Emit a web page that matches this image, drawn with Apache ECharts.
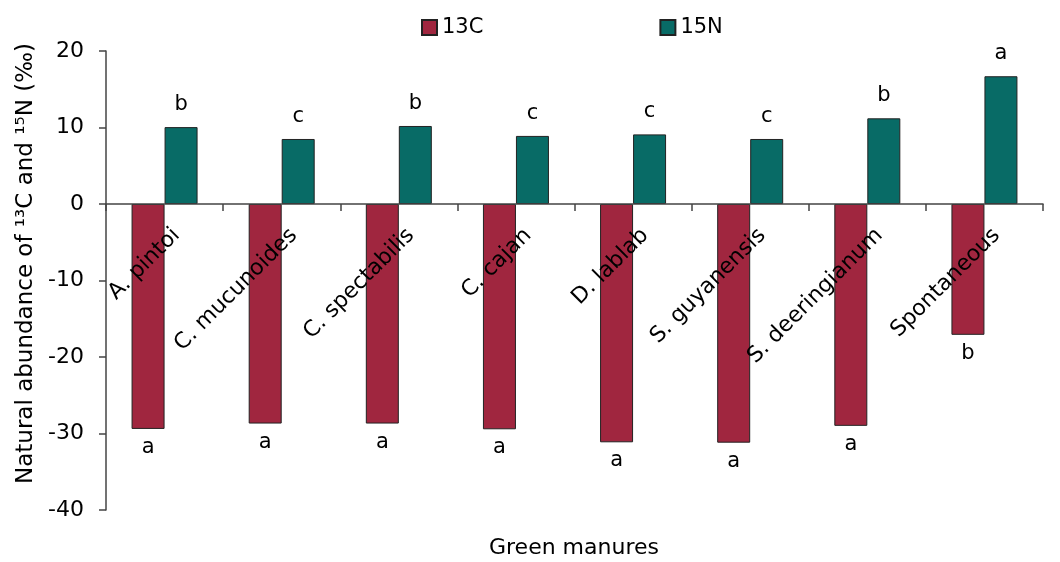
<!DOCTYPE html>
<html>
<head>
<meta charset="utf-8">
<script src="https://cdn.jsdelivr.net/npm/echarts@6/dist/echarts.min.js"></script>
<style>
html,body{margin:0;padding:0;background:#fff;}
#chart{width:1060px;height:562px;}
</style>
</head>
<body>
<div id="chart"></div>
<script>
var categories = ['A. pintoi','C. mucunoides','C. spectabilis','C. cajan','D. lablab','S. guyanensis','S. deeringianum','Spontaneous'];
var c13Values = [-29.4, -28.7, -28.7, -29.45, -31.15, -31.2, -29.0, -17.1];
var n15Values = [10.05, 8.5, 10.2, 8.9, 9.1, 8.5, 11.2, 16.7];
var c13Letters = ['a','a','a','a','a','a','a','b'];
var n15Letters = ['b','c','b','c','c','c','b','a'];
var yTicks = {min: -40, max: 20, interval: 10};

var FONT = 'DejaVu Sans';
var GRID = {left: 106, right: 17, top: 51, bottom: 52};
var chartH = 562;
var gridH = chartH - GRID.top - GRID.bottom;
// place the category axis on the zero line (fraction of range below zero)
var zeroOffset = -gridH * (0 - yTicks.min) / (yTicks.max - yTicks.min);

var chart = echarts.init(document.getElementById('chart'), null, {renderer: 'canvas'});
chart.setOption({
  animation: false,
  backgroundColor: '#fff',
  textStyle: {fontFamily: FONT, color: '#000'},
  legend: {
    left: 421, top: 17, padding: 0,
    itemWidth: 15, itemHeight: 15, itemGap: 176, itemTextGap: 8,
    icon: 'rect',
    textStyle: {fontFamily: FONT, fontSize: 21, color: '#000'},
    data: ['13C', '15N']
  },
  grid: {left: GRID.left, right: GRID.right, top: GRID.top, bottom: GRID.bottom, containLabel: false, outerBoundsMode: 'none'},
  xAxis: {
    type: 'category',
    data: categories,
    z: 5,
    offset: zeroOffset,
    axisLine: {onZero: false, lineStyle: {color: '#444', width: 1.5}},
    axisTick: {show: true, length: 7, lineStyle: {color: '#444', width: 1.5}},
    axisLabel: {interval: 0, rotate: 45, fontSize: 22, color: '#000', fontFamily: FONT, margin: 40,
      padding: [0, -17, 0, 0]}
  },
  yAxis: {
    type: 'value',
    min: yTicks.min, max: yTicks.max, interval: yTicks.interval,
    name: 'Natural abundance of \u00B9\u00B3C and \u00B9\u2075N (\u2030)',
    nameLocation: 'middle', nameGap: 62, nameRotate: 90,
    nameTextStyle: {fontFamily: FONT, fontSize: 23, color: '#000', padding: [0, 0, 0, 34]},
    axisLine: {show: true, lineStyle: {color: '#444', width: 1.5}},
    axisTick: {show: true, length: 7, lineStyle: {color: '#444', width: 1.5}},
    splitLine: {show: false},
    axisLabel: {fontSize: 22, color: '#000', fontFamily: FONT, margin: 22}
  },
  series: [
    {
      name: '13C', type: 'bar', data: c13Values,
      barWidth: 33, barGap: '0%',
      itemStyle: {color: '#A0263F', borderColor: '#222', borderWidth: 1},
      label: {show: true, position: 'bottom', distance: 8, fontSize: 21, color: '#000', fontFamily: FONT,
        formatter: function(p){ return c13Letters[p.dataIndex]; }}
    },
    {
      name: '15N', type: 'bar', data: n15Values,
      barWidth: 33, barGap: '0%',
      itemStyle: {color: '#086B66', borderColor: '#222', borderWidth: 1},
      label: {show: true, position: 'top', distance: 12, fontSize: 21, color: '#000', fontFamily: FONT,
        formatter: function(p){ return n15Letters[p.dataIndex]; }}
    }
  ],
  graphic: [{
    type: 'text', left: 489, top: 537,
    style: {text: 'Green manures', fontFamily: FONT, fontSize: 22, fill: '#000'}
  }]
});
</script>
</body>
</html>
